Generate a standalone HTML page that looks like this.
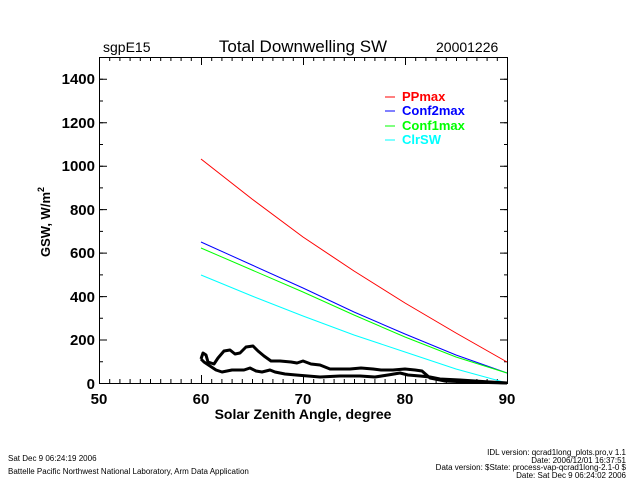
<!DOCTYPE html>
<html><head><style>
body{margin:0;background:#fff;width:640px;height:480px;overflow:hidden}
text{font-family:"Liberation Sans",sans-serif}
</style></head><body>
<svg width="640" height="480" xmlns="http://www.w3.org/2000/svg">
<rect width="640" height="480" fill="#fff"/>
<text x="103" y="52" font-size="14">sgpE15</text>
<text x="303" y="52" font-size="17" text-anchor="middle">Total Downwelling SW</text>
<text x="436" y="52" font-size="14">20001226</text>
<rect x="99.5" y="57.5" width="408" height="326" fill="none" stroke="#000" stroke-width="1"/>
<g stroke="#000" fill="none">
<line x1="99" y1="381" x2="509" y2="381" stroke-width="4" stroke-dasharray="1 9.2"/>
<line x1="99" y1="379" x2="509" y2="379" stroke-width="8" stroke-dasharray="1 101"/>
<line x1="99" y1="59" x2="509" y2="59" stroke-width="4" stroke-dasharray="1 9.2"/>
<line x1="99" y1="61" x2="509" y2="61" stroke-width="8" stroke-dasharray="1 101"/>
<line x1="101" y1="384" x2="101" y2="56" stroke-width="4" stroke-dasharray="1 20.73"/>
<line x1="103" y1="384" x2="103" y2="56" stroke-width="8" stroke-dasharray="1 42.46"/>
<line x1="506" y1="384" x2="506" y2="56" stroke-width="4" stroke-dasharray="1 20.73"/>
<line x1="504" y1="384" x2="504" y2="56" stroke-width="8" stroke-dasharray="1 42.46"/>
</g>
<g font-size="15" text-anchor="end" font-weight="bold">
<text x="95" y="389">0</text><text x="95" y="345">200</text><text x="95" y="302">400</text>
<text x="95" y="258">600</text><text x="95" y="215">800</text><text x="95" y="171">1000</text>
<text x="95" y="128">1200</text><text x="95" y="84">1400</text>
</g>
<g font-size="15" text-anchor="middle" font-weight="bold">
<text x="99" y="404">50</text><text x="201" y="404">60</text><text x="303" y="404">70</text>
<text x="405" y="404">80</text><text x="507" y="404">90</text>
</g>
<text x="303" y="419" font-size="14" text-anchor="middle" font-weight="bold">Solar Zenith Angle, degree</text>
<text transform="translate(50,222) rotate(-90)" font-size="13" text-anchor="middle" font-weight="bold">GSW, W/m<tspan font-size="9" dy="-6">2</tspan></text>
<g font-size="13" font-weight="bold">
<line x1="385" y1="97" x2="395" y2="97" stroke="#f00"/><text x="402" y="101" fill="#f00">PPmax</text>
<line x1="385" y1="111" x2="395" y2="111" stroke="#00f"/><text x="402" y="115" fill="#00f">Conf2max</text>
<line x1="385" y1="126" x2="395" y2="126" stroke="#0f0"/><text x="402" y="130" fill="#0f0">Conf1max</text>
<line x1="385" y1="140" x2="395" y2="140" stroke="#0ff"/><text x="402" y="144" fill="#0ff">ClrSW</text>
</g>
<g fill="none" stroke-width="1">
<polyline stroke="#f00" points="201,159 252,199 303,237 354,271 405,303 456,333 507,362"/>
<polyline stroke="#00f" points="201,242 252,265 303,288 354,312 405,334 456,355 507,373"/>
<polyline stroke="#0f0" points="201,248 252,270 303,292 354,315 405,337 456,357 507,373"/>
<polyline stroke="#0ff" points="201,275 252,296 303,316 354,335 405,352 456,369 507,383"/>
</g>
<g fill="none" stroke="#000" stroke-width="3" stroke-linejoin="round">
<polyline points="201,359 203,353 206,355 208,362 214,364 218,358 224,351 230,350 235,354 240,353 246,347 253,346 258,351 264,356 271,361 280,361 291,362 297,363 303,361 311,364 320,365 330,369 339,369 350,369 361,368 373,369 381,370 393,370 405,369 415,370 422,371 430,378 445,381 470,382 507,383"/>
<polyline points="201,359 204,362 210,366 216,370 222,372 232,370 244,370 250,368 256,371 262,372 270,370 275,372 285,374 296,375 308,376 320,377 340,376 360,376 375,377 388,375 400,373 408,375 420,376 430,377 440,379 460,380 490,382 507,383"/>
</g>
<g font-size="8" fill="#000">
<text x="8" y="461">Sat Dec  9 06:24:19 2006</text>
<text x="8" y="474">Battelle Pacific Northwest National Laboratory, Arm Data Application</text>
<text x="626" y="455" text-anchor="end">IDL version: qcrad1long_plots.pro,v 1.1</text>
<text x="626" y="463" text-anchor="end">Date: 2006/12/01 16:37:51</text>
<text x="626" y="470" text-anchor="end">Data version: $State: process-vap-qcrad1long-2.1-0 $</text>
<text x="626" y="478" text-anchor="end">Date: Sat Dec  9 06:24:02 2006</text>
</g>
</svg>
</body></html>
